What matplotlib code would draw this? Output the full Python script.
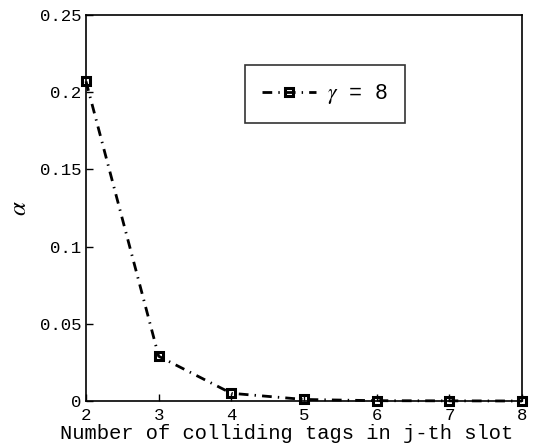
import matplotlib
matplotlib.use('Agg')
import matplotlib.pyplot as plt

# Data
tags = [2, 3, 4, 5, 6, 7, 8]
alpha_vals = [0.207, 0.029, 0.005, 0.001, 0.0002, 0.0001, 0.0]
series_label = r'$\gamma$ = 8'
yticks = [0, 0.05, 0.1, 0.15, 0.2, 0.25]
ytick_labels = ['0', '0.05', '0.1', '0.15', '0.2', '0.25']

plt.rcParams['font.family'] = ['Liberation Mono', 'DejaVu Sans']
plt.rcParams['mathtext.fontset'] = 'stix'

fig = plt.figure(figsize=(5.52, 4.43), dpi=100)
ax = fig.add_axes([86/552, 1 - 401/443, (522-86)/552, (401-15)/443])

ax.plot(tags, alpha_vals, linestyle='-.', dashes=(3.5, 2.2, 0.5, 2.2), color='black',
        linewidth=2.0, marker='s', markersize=5.5, markerfacecolor='none',
        markeredgewidth=2.2, label=series_label, clip_on=False, zorder=3)

ax.set_xlim(2, 8)
ax.set_ylim(0, 0.25)
ax.set_xticks(tags)
ax.set_yticks(yticks)
ax.set_yticklabels(ytick_labels)
ax.tick_params(direction='in', labelsize=12.5, length=5, width=1)
ax.tick_params(axis='x', pad=5)
for s in ax.spines.values():
    s.set_linewidth(1.2)

ax.set_xlabel('Number of colliding tags in j-th slot', fontsize=14.8)
ax.xaxis.set_label_coords((287-86)/436, -0.06)
ax.set_ylabel(r'$\alpha$', fontsize=18, labelpad=6)

leg = ax.legend(loc='upper left', bbox_to_anchor=((245-86)/436, (401-65)/386),
                fancybox=False, edgecolor='black', fontsize=15.5, handlelength=2.5,
                handletextpad=0.5, borderpad=0.8, borderaxespad=0)
leg.get_frame().set_linewidth(1.2)

fig.savefig('out.png', dpi=100)
